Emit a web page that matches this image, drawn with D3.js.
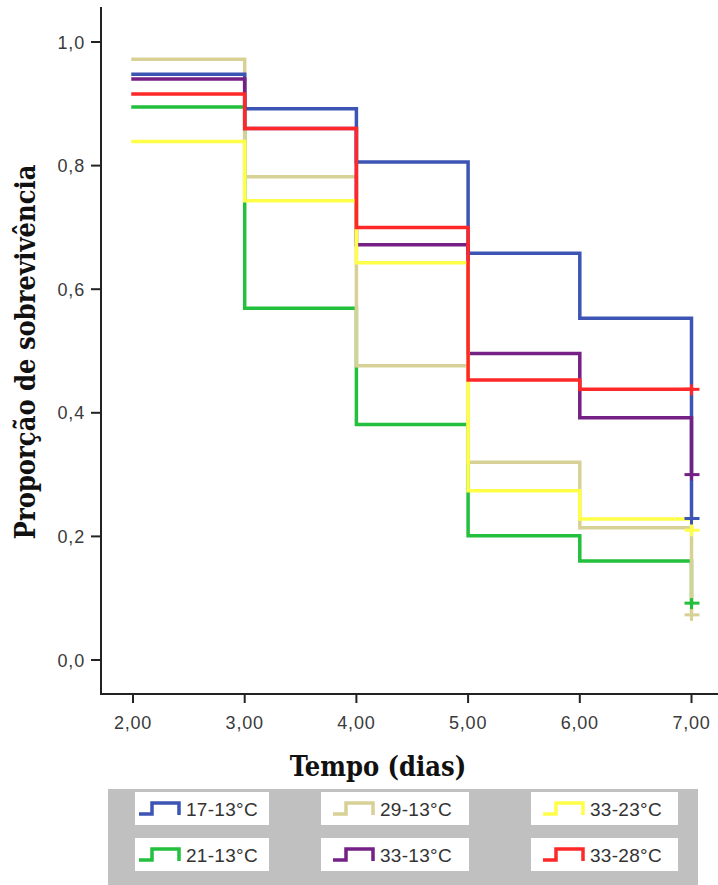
<!DOCTYPE html>
<html>
<head>
<meta charset="utf-8">
<script src="https://cdn.jsdelivr.net/npm/d3@7"></script>
<style>
  html, body { margin: 0; padding: 0; background: #ffffff; }
  svg { display: block; }
</style>
</head>
<body>
<svg id="chart" width="718" height="885"></svg>
<script>
// ---- data ----
const times = [2, 3, 4, 5, 6, 7];
const seriesNames = ["17-13°C", "21-13°C", "29-13°C", "33-13°C", "33-23°C", "33-28°C"];
const s17_13 = [0.948, 0.892, 0.806, 0.658, 0.553];
const s21_13 = [0.895, 0.569, 0.381, 0.201, 0.160];
const s29_13 = [0.972, 0.782, 0.476, 0.320, 0.214];
const s33_13 = [0.940, 0.860, 0.672, 0.496, 0.392];
const s33_23 = [0.839, 0.743, 0.643, 0.274, 0.228];
const s33_28 = [0.916, 0.860, 0.700, 0.453, 0.438];
const censored = [0.229, 0.092, 0.073, 0.300, 0.210, 0.438];
const colors = ["#3c55b4", "#22c03c", "#d8d196", "#742085", "#ffff48", "#ff2828"];
const yTicks = [0.0, 0.2, 0.4, 0.6, 0.8, 1.0];
const xTicks = [2, 3, 4, 5, 6, 7];
const legendOrder = ["17-13°C", "29-13°C", "33-23°C", "21-13°C", "33-13°C", "33-28°C"];
// drawing order (bottom -> top)
const drawOrder = ["21-13°C", "29-13°C", "17-13°C", "33-13°C", "33-23°C", "33-28°C"];

const values = [s17_13, s21_13, s29_13, s33_13, s33_23, s33_28];
const series = seriesNames.map((n, i) => ({
  name: n, color: colors[i], vals: values[i], cens: censored[i]
}));

const svg = d3.select("#chart");

const x = d3.scaleLinear().domain([2, 7]).range([133, 691.5]);
const y = d3.scaleLinear().domain([0, 1]).range([660, 42]);

const axisX = 101, axisY = 694;

// Y axis
svg.append("line").attr("x1", axisX).attr("x2", axisX).attr("y1", 7).attr("y2", axisY + 1)
  .attr("stroke", "#222").attr("stroke-width", 2);
// X axis
svg.append("line").attr("x1", axisX - 1).attr("x2", 718).attr("y1", axisY).attr("y2", axisY)
  .attr("stroke", "#222").attr("stroke-width", 2);

const fmt = (v, d) => v.toFixed(d).replace(".", ",");

// Y ticks
const yg = svg.append("g");
yg.selectAll("line").data(yTicks).join("line")
  .attr("x1", axisX - 10).attr("x2", axisX).attr("y1", d => y(d)).attr("y2", d => y(d))
  .attr("stroke", "#222").attr("stroke-width", 2);
yg.selectAll("text").data(yTicks).join("text")
  .attr("x", 85).attr("y", d => y(d) + 6.5)
  .attr("text-anchor", "end")
  .attr("font-family", "Liberation Sans, Arial, sans-serif")
  .attr("font-size", 18).attr("letter-spacing", 0.8)
  .attr("fill", "#3a3a3a")
  .text(d => fmt(d, 1));

// X ticks
const xg = svg.append("g");
xg.selectAll("line").data(xTicks).join("line")
  .attr("x1", d => x(d)).attr("x2", d => x(d)).attr("y1", axisY).attr("y2", axisY + 9)
  .attr("stroke", "#222").attr("stroke-width", 2);
xg.selectAll("text").data(xTicks).join("text")
  .attr("x", d => x(d)).attr("y", 729)
  .attr("text-anchor", "middle")
  .attr("font-family", "Liberation Sans, Arial, sans-serif")
  .attr("font-size", 18).attr("letter-spacing", 0.8)
  .attr("fill", "#3a3a3a")
  .text(d => fmt(d, 2));

// Axis titles
svg.append("text")
  .attr("x", 378).attr("y", 776)
  .attr("text-anchor", "middle")
  .attr("font-family", "DejaVu Serif Condensed, DejaVu Serif, serif")
  .attr("font-stretch", "condensed")
  .attr("font-weight", "bold").attr("font-size", 27)
  .attr("fill", "#111")
  .text("Tempo (dias)");

svg.append("text")
  .attr("transform", "translate(35,352) rotate(-90)")
  .attr("text-anchor", "middle")
  .attr("font-family", "DejaVu Serif Condensed, DejaVu Serif, serif")
  .attr("font-stretch", "condensed")
  .attr("font-weight", "bold").attr("font-size", 27)
  .attr("fill", "#111")
  .text("Proporção de sobrevivência");

// Survival step lines
const line = d3.line().x(d => x(d[0])).y(d => y(d[1])).curve(d3.curveStepAfter);
const ordered = drawOrder.map(n => series.find(s => s.name === n));

const lg = svg.append("g");
ordered.forEach(s => {
  const pts = s.vals.map((v, i) => [times[i], v]);
  pts.push([times[times.length - 1], s.cens]);
  lg.append("path").datum(pts)
    .attr("d", line)
    .attr("fill", "none")
    .attr("stroke", s.color)
    .attr("stroke-width", 3.5)
    .attr("stroke-linejoin", "miter")
    .attr("stroke-linecap", "square");
});
// censor marks
ordered.forEach(s => {
  const cx = x(7), cy = y(s.cens);
  lg.append("line").attr("x1", cx - 7).attr("x2", cx + 8).attr("y1", cy).attr("y2", cy)
    .attr("stroke", s.color).attr("stroke-width", 3);
  lg.append("line").attr("x1", cx).attr("x2", cx).attr("y1", cy - 5).attr("y2", cy + 6)
    .attr("stroke", s.color).attr("stroke-width", 3);
});

// Legend
svg.append("rect").attr("x", 108).attr("y", 789).attr("width", 590).attr("height", 96)
  .attr("fill", "#c0c0c0");
const colX = [135, 321, 531];
const colW = [134, 148, 147];
const rowY = [792, 838];
const leg = svg.append("g");
legendOrder.forEach((n, i) => {
  const s = series.find(d => d.name === n);
  const c = i % 3, r = Math.floor(i / 3);
  const bx = colX[c], by = rowY[r];
  const g = leg.append("g").attr("transform", `translate(${bx},${by})`);
  g.append("rect").attr("width", colW[c]).attr("height", 33).attr("fill", "#ffffff");
  const ix = c === 0 ? 4 : 12;
  const iconPts = [[ix, 22], [ix + 13, 22], [ix + 13, 11], [ix + 40, 11], [ix + 40, 23]];
  g.append("path").attr("d", d3.line()(iconPts))
    .attr("fill", "none").attr("stroke", s.color).attr("stroke-width", 3.5);
  g.append("text").attr("x", ix + 47).attr("y", 24)
    .attr("font-family", "Liberation Sans, Arial, sans-serif")
    .attr("font-size", 19).attr("letter-spacing", 0.3)
    .attr("fill", "#333")
    .text(n);
});
</script>
</body>
</html>
